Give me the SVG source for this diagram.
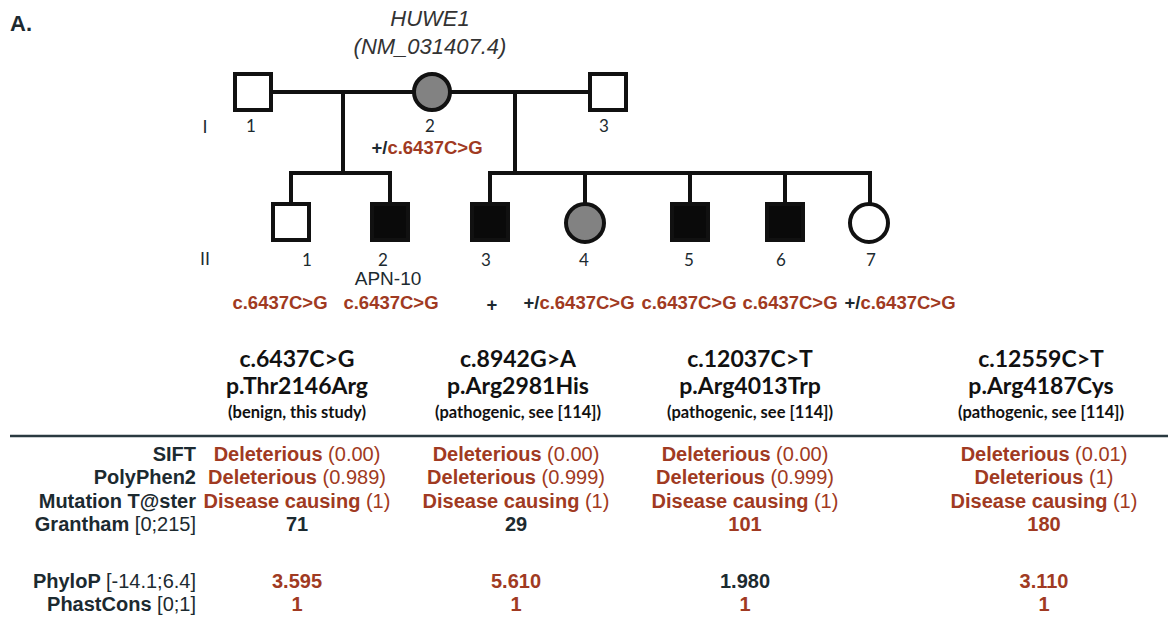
<svg xmlns="http://www.w3.org/2000/svg" width="1168" height="622" viewBox="0 0 1168 622">
<style>
.bg{fill:#ffffff}
.ln{stroke:#111;stroke-width:4;fill:none}
.sq{stroke:#111;stroke-width:4;fill:#fff}
.aff{fill:#0a0a0a}
.car{fill:#828282}
.num{font-family:Lato,"Open Sans",sans-serif;font-size:17px;fill:#1c2a30;text-anchor:middle}
.gen{font-family:"Liberation Sans",Arial,sans-serif;font-size:18px;fill:#1c2a30}
.gt{font-family:"Liberation Sans",Arial,sans-serif;font-size:18.5px;font-weight:bold;fill:#a03a22;text-anchor:middle}
.dk{fill:#1c2a30}
.hd{font-family:Lato,"Open Sans",sans-serif;font-weight:bold;fill:#111;text-anchor:middle}
.h1{font-size:23px}
.h3{font-size:16.5px}
.lab{font-family:"Liberation Sans",Arial,sans-serif;font-size:20px;font-weight:bold;fill:#1c2a30;text-anchor:end}
.val{font-family:"Liberation Sans",Arial,sans-serif;font-size:20px;font-weight:bold;fill:#a03a22;text-anchor:middle}
.n{font-weight:normal}
.blk{fill:#1c2a30}
</style>
<rect class="bg" x="0" y="0" width="1168" height="622"/>
<text x="10" y="31" font-family="Liberation Sans,Arial,sans-serif" font-size="22" font-weight="bold" fill="#1c2a30">A.</text>
<text x="430" y="26" font-family="Liberation Sans,Arial,sans-serif" font-size="22" font-style="italic" fill="#333" text-anchor="middle">HUWE1</text>
<text x="430" y="54" font-family="Liberation Sans,Arial,sans-serif" font-size="22" font-style="italic" fill="#333" text-anchor="middle">(NM_031407.4)</text>
<g id="connectors">
<line class="ln" x1="273" y1="92" x2="588" y2="92"/>
<line class="ln" x1="343" y1="92" x2="343" y2="173"/>
<line class="ln" x1="515" y1="92" x2="515" y2="173"/>
<polyline class="ln" points="291,204 291,173 390,173 390,204"/>
<line class="ln" x1="488" y1="173" x2="872" y2="173"/>
<line class="ln" x1="490" y1="173" x2="490" y2="204"/>
<line class="ln" x1="585" y1="173" x2="585" y2="204"/>
<line class="ln" x1="690" y1="173" x2="690" y2="204"/>
<line class="ln" x1="785" y1="173" x2="785" y2="204"/>
<line class="ln" x1="870" y1="173" x2="870" y2="204"/>
</g>
<text class="gen" x="205" y="133" text-anchor="middle">I</text>
<text class="gen" x="205" y="265" text-anchor="middle">II</text>
<g id="I-1"><rect class="sq" x="235" y="74" width="36" height="36"/><text class="num" x="251" y="132">1</text></g>
<g id="I-2"><circle class="sq car" cx="432" cy="92" r="18"/><text class="num" x="430" y="132">2</text><text class="gt" x="427" y="154"><tspan class="dk">+/</tspan>c.6437C&gt;G</text></g>
<g id="I-3"><rect class="sq" x="590" y="74" width="36" height="36"/><text class="num" x="604" y="132">3</text></g>
<g id="II-1"><rect class="sq" x="273" y="204" width="36" height="36"/><text class="num" x="307" y="266">1</text><text class="gt" x="280" y="309">c.6437C&gt;G</text></g>
<g id="II-2"><rect class="sq aff" x="372" y="204" width="36" height="36"/><text class="num" x="383" y="266">2</text><text x="388" y="285" font-family="Liberation Sans,Arial,sans-serif" font-size="19" fill="#1c2a30" text-anchor="middle">APN-10</text><text class="gt" x="391" y="309">c.6437C&gt;G</text></g>
<g id="II-3"><rect class="sq aff" x="472" y="204" width="36" height="36"/><text class="num" x="486" y="266">3</text><text class="gt dk" x="492" y="311">+</text></g>
<g id="II-4"><circle class="sq car" cx="585" cy="223" r="19"/><text class="num" x="584" y="266">4</text><text class="gt" x="579" y="309"><tspan class="dk">+/</tspan>c.6437C&gt;G</text></g>
<g id="II-5"><rect class="sq aff" x="672" y="204" width="36" height="36"/><text class="num" x="689" y="266">5</text><text class="gt" x="689" y="309">c.6437C&gt;G</text></g>
<g id="II-6"><rect class="sq aff" x="767" y="204" width="36" height="36"/><text class="num" x="781" y="266">6</text><text class="gt" x="790" y="309">c.6437C&gt;G</text></g>
<g id="II-7"><circle class="sq" cx="869" cy="223" r="19"/><text class="num" x="871" y="266">7</text><text class="gt" x="900" y="309"><tspan class="dk">+/</tspan>c.6437C&gt;G</text></g>
<g id="table">
<text class="hd h1" x="297" y="367">c.6437C&gt;G</text>
<text class="hd h1" x="297" y="394">p.Thr2146Arg</text>
<text class="hd h3" x="297" y="418">(benign, this study)</text>
<text class="hd h1" x="518" y="367">c.8942G&gt;A</text>
<text class="hd h1" x="518" y="394">p.Arg2981His</text>
<text class="hd h3" x="518" y="418">(pathogenic, see [114])</text>
<text class="hd h1" x="750" y="367">c.12037C&gt;T</text>
<text class="hd h1" x="750" y="394">p.Arg4013Trp</text>
<text class="hd h3" x="750" y="418">(pathogenic, see [114])</text>
<text class="hd h1" x="1041" y="367">c.12559C&gt;T</text>
<text class="hd h1" x="1041" y="394">p.Arg4187Cys</text>
<text class="hd h3" x="1041" y="418">(pathogenic, see [114])</text>
<line x1="10" y1="436" x2="1168" y2="436" stroke="#2a3a40" stroke-width="2.5"/>
<text class="lab" x="196" y="461">SIFT</text>
<text class="lab" x="196" y="484">PolyPhen2</text>
<text class="lab" x="196" y="508">Mutation T@ster</text>
<text class="lab" x="196" y="531">Grantham <tspan class="n">[0;215]</tspan></text>
<text class="lab" x="196" y="588">PhyloP <tspan class="n">[-14.1;6.4]</tspan></text>
<text class="lab" x="196" y="611">PhastCons <tspan class="n">[0;1]</tspan></text>
<text class="val" x="297" y="461">Deleterious <tspan class="n">(0.00)</tspan></text>
<text class="val" x="297" y="484">Deleterious <tspan class="n">(0.989)</tspan></text>
<text class="val" x="297" y="508">Disease causing <tspan class="n">(1)</tspan></text>
<text class="val blk" x="297" y="531">71</text>
<text class="val" x="297" y="588">3.595</text>
<text class="val" x="297" y="611">1</text>
<text class="val" x="516" y="461">Deleterious <tspan class="n">(0.00)</tspan></text>
<text class="val" x="516" y="484">Deleterious <tspan class="n">(0.999)</tspan></text>
<text class="val" x="516" y="508">Disease causing <tspan class="n">(1)</tspan></text>
<text class="val blk" x="516" y="531">29</text>
<text class="val" x="516" y="588">5.610</text>
<text class="val" x="516" y="611">1</text>
<text class="val" x="745" y="461">Deleterious <tspan class="n">(0.00)</tspan></text>
<text class="val" x="745" y="484">Deleterious <tspan class="n">(0.999)</tspan></text>
<text class="val" x="745" y="508">Disease causing <tspan class="n">(1)</tspan></text>
<text class="val" x="745" y="531">101</text>
<text class="val blk" x="745" y="588">1.980</text>
<text class="val" x="745" y="611">1</text>
<text class="val" x="1044" y="461">Deleterious <tspan class="n">(0.01)</tspan></text>
<text class="val" x="1044" y="484">Deleterious <tspan class="n">(1)</tspan></text>
<text class="val" x="1044" y="508">Disease causing <tspan class="n">(1)</tspan></text>
<text class="val" x="1044" y="531">180</text>
<text class="val" x="1044" y="588">3.110</text>
<text class="val" x="1044" y="611">1</text>
</g>
</svg>
